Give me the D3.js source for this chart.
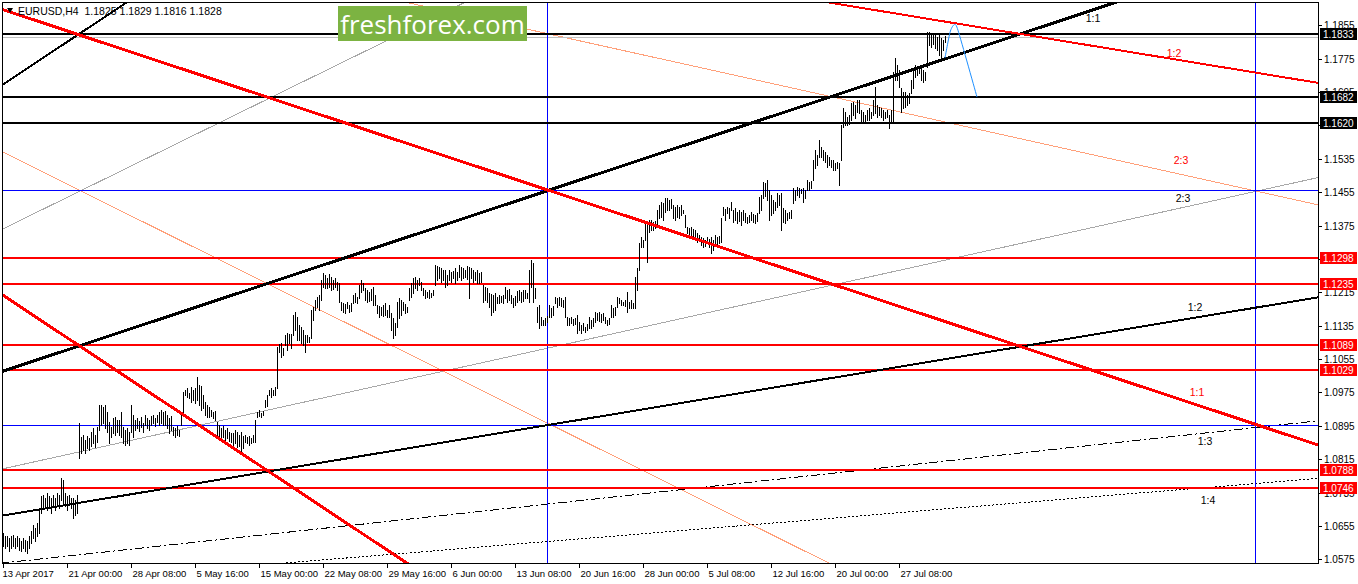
<!DOCTYPE html>
<html><head><meta charset="utf-8">
<script src="https://cdn.jsdelivr.net/npm/d3@7"></script>
<style>
html,body{margin:0;padding:0;background:#fff;}
svg{display:block;font-family:"Liberation Sans",Arial,sans-serif;}
</style></head><body><svg id="c" width="1358" height="584"></svg>
<script>
const symbolTitle = "EURUSD,H4  1.1825 1.1829 1.1816 1.1828";
const brand = "freshforex.com";

const highs = [
1.0637,1.0630,1.0632,1.0625,1.0630,1.0634,1.0627,1.0632,1.0625,1.0620,
1.0627,1.0622,1.0618,1.0630,1.0644,1.0658,1.0651,1.0663,1.0697,1.0726,
1.0730,1.0723,1.0733,1.0726,1.0721,1.0730,1.0723,1.0733,1.0728,1.0771,
1.0766,1.0733,1.0726,1.0730,1.0723,1.0723,1.0716,1.0728,1.0901,1.0867,
1.0872,1.0862,1.0870,1.0865,1.0879,1.0889,1.0874,1.0891,1.0944,1.0946,
1.0939,1.0946,1.0927,1.0903,1.0891,1.0913,1.0915,1.0908,1.0910,1.0927,
1.0891,1.0884,1.0889,1.0879,1.0944,1.0920,1.0908,1.0913,1.0906,1.0915,
1.0901,1.0920,1.0913,1.0908,1.0918,1.0920,1.0913,1.0922,1.0927,1.0932,
1.0927,1.0930,1.0920,1.0913,1.0918,1.0891,1.0889,1.0894,1.0886,1.0925,
1.0975,1.0980,1.0985,1.0973,1.0987,1.0982,1.0985,1.1011,1.0992,1.0990,
1.0968,1.0951,1.0944,1.0939,1.0932,1.0927,1.0930,1.0903,1.0896,1.0889,
1.0894,1.0884,1.0889,1.0879,1.0877,1.0877,1.0884,1.0879,1.0872,1.0879,
1.0870,1.0872,1.0867,1.0870,1.0865,1.0872,1.0908,1.0927,1.0932,1.0925,
1.0930,1.0956,1.0968,1.0982,1.0985,1.0980,1.0987,1.1083,1.1090,1.1093,
1.1081,1.1112,1.1117,1.1114,1.1114,1.1160,1.1167,1.1155,1.1136,1.1131,
1.1124,1.1112,1.1112,1.1107,1.1172,1.1179,1.1196,1.1203,1.1208,1.1244,
1.1261,1.1256,1.1249,1.1258,1.1251,1.1244,1.1249,1.1239,1.1237,1.1191,
1.1189,1.1186,1.1191,1.1184,1.1189,1.1208,1.1213,1.1203,1.1232,1.1244,
1.1237,1.1225,1.1220,1.1215,1.1222,1.1227,1.1208,1.1184,1.1182,1.1179,
1.1184,1.1189,1.1172,1.1184,1.1165,1.1153,1.1141,1.1191,1.1201,1.1196,
1.1191,1.1186,1.1179,1.1225,1.1237,1.1249,1.1251,1.1244,1.1249,1.1239,
1.1225,1.1220,1.1215,1.1220,1.1213,1.1220,1.1280,1.1278,1.1275,1.1273,
1.1268,1.1268,1.1256,1.1268,1.1263,1.1266,1.1273,1.1263,1.1280,1.1275,
1.1273,1.1268,1.1278,1.1275,1.1273,1.1268,1.1263,1.1268,1.1261,1.1263,
1.1232,1.1227,1.1225,1.1213,1.1210,1.1208,1.1213,1.1203,1.1208,1.1206,
1.1208,1.1227,1.1220,1.1222,1.1208,1.1201,1.1206,1.1218,1.1220,1.1215,
1.1220,1.1220,1.1213,1.1268,1.1292,1.1285,1.1225,1.1179,1.1184,1.1155,
1.1148,1.1153,1.1158,1.1184,1.1177,1.1182,1.1203,1.1201,1.1203,1.1201,
1.1196,1.1203,1.1155,1.1153,1.1155,1.1150,1.1153,1.1160,1.1143,1.1136,
1.1141,1.1131,1.1138,1.1155,1.1148,1.1153,1.1167,1.1165,1.1167,1.1162,
1.1165,1.1155,1.1148,1.1153,1.1184,1.1177,1.1179,1.1203,1.1201,1.1196,
1.1191,1.1196,1.1215,1.1191,1.1196,1.1189,1.1251,1.1273,1.1333,1.1347,
1.1340,1.1383,1.1381,1.1388,1.1388,1.1383,1.1386,1.1412,1.1424,1.1431,
1.1429,1.1441,1.1441,1.1436,1.1438,1.1424,1.1419,1.1424,1.1419,1.1424,
1.1412,1.1400,1.1371,1.1369,1.1371,1.1366,1.1364,1.1357,1.1352,1.1347,
1.1345,1.1340,1.1347,1.1342,1.1347,1.1340,1.1352,1.1347,1.1350,1.1393,
1.1419,1.1414,1.1419,1.1417,1.1431,1.1412,1.1417,1.1407,1.1412,1.1407,
1.1412,1.1405,1.1395,1.1400,1.1407,1.1402,1.1400,1.1405,1.1443,1.1448,
1.1479,1.1477,1.1484,1.1460,1.1448,1.1436,1.1431,1.1453,1.1448,1.1453,
1.1417,1.1412,1.1405,1.1407,1.1412,1.1465,1.1460,1.1467,1.1465,1.1462,
1.1465,1.1460,1.1484,1.1479,1.1482,1.1532,1.1556,1.1544,1.1580,1.1563,
1.1556,1.1551,1.1544,1.1539,1.1532,1.1532,1.1525,1.1527,1.1525,1.1616,
1.1657,1.1647,1.1635,1.1640,1.1669,1.1671,1.1664,1.1676,1.1676,1.1652,
1.1647,1.1640,1.1652,1.1657,1.1647,1.1676,1.1707,1.1664,1.1659,1.1657,
1.1652,1.1647,1.1652,1.1640,1.1652,1.1743,1.1777,1.1760,1.1748,1.1705,
1.1695,1.1695,1.1688,1.1693,1.1724,1.1748,1.1760,1.1753,1.1758,1.1753,
1.1748,1.1743,1.1839,1.1839,1.1837,1.1834,1.1832,1.1827,1.1832,1.1825,
1.1820,1.1829];

const lows = [
1.0606,1.0601,1.0608,1.0596,1.0603,1.0608,1.0601,1.0606,1.0598,1.0594,
1.0601,1.0596,1.0591,1.0603,1.0615,1.0627,1.0620,1.0630,1.0637,1.0687,
1.0697,1.0702,1.0692,1.0699,1.0685,1.0702,1.0694,1.0704,1.0697,1.0716,
1.0711,1.0702,1.0692,1.0704,1.0697,1.0675,1.0680,1.0687,1.0817,1.0831,
1.0836,1.0829,1.0841,1.0836,1.0846,1.0853,1.0843,1.0855,1.0884,1.0896,
1.0901,1.0889,1.0879,1.0853,1.0867,1.0877,1.0872,1.0879,1.0874,1.0867,
1.0853,1.0848,1.0853,1.0850,1.0879,1.0867,1.0884,1.0889,1.0882,1.0891,
1.0879,1.0898,1.0889,1.0884,1.0896,1.0901,1.0894,1.0903,1.0898,1.0901,
1.0896,1.0898,1.0889,1.0877,1.0884,1.0872,1.0867,1.0874,1.0870,1.0896,
1.0920,1.0968,1.0963,1.0961,1.0951,1.0956,1.0949,1.0956,1.0944,1.0932,
1.0937,1.0920,1.0915,1.0915,1.0918,1.0913,1.0908,1.0867,1.0865,1.0860,
1.0867,1.0860,1.0865,1.0858,1.0855,1.0850,1.0853,1.0843,1.0846,1.0831,
1.0841,1.0855,1.0853,1.0850,1.0853,1.0855,1.0855,1.0915,1.0918,1.0915,
1.0920,1.0939,1.0942,1.0968,1.0963,1.0970,1.0968,1.0985,1.1071,1.1059,
1.1064,1.1088,1.1076,1.1093,1.1081,1.1112,1.1124,1.1100,1.1100,1.1093,
1.1088,1.1071,1.1095,1.1095,1.1105,1.1148,1.1172,1.1179,1.1172,1.1196,
1.1227,1.1225,1.1225,1.1227,1.1220,1.1222,1.1227,1.1220,1.1191,1.1172,
1.1167,1.1165,1.1177,1.1167,1.1170,1.1189,1.1191,1.1189,1.1201,1.1215,
1.1220,1.1196,1.1191,1.1194,1.1196,1.1184,1.1184,1.1165,1.1155,1.1160,
1.1158,1.1160,1.1155,1.1155,1.1124,1.1105,1.1112,1.1131,1.1153,1.1160,
1.1172,1.1165,1.1167,1.1196,1.1203,1.1213,1.1225,1.1220,1.1232,1.1220,
1.1208,1.1201,1.1203,1.1201,1.1203,1.1208,1.1232,1.1244,1.1249,1.1239,
1.1244,1.1227,1.1232,1.1244,1.1239,1.1249,1.1237,1.1244,1.1251,1.1244,
1.1249,1.1251,1.1246,1.1201,1.1249,1.1239,1.1244,1.1237,1.1237,1.1239,
1.1191,1.1196,1.1191,1.1179,1.1160,1.1167,1.1172,1.1189,1.1189,1.1191,
1.1189,1.1201,1.1191,1.1196,1.1189,1.1179,1.1184,1.1191,1.1196,1.1191,
1.1194,1.1201,1.1201,1.1191,1.1227,1.1191,1.1201,1.1143,1.1129,1.1136,
1.1136,1.1136,1.1143,1.1155,1.1155,1.1160,1.1189,1.1179,1.1184,1.1182,
1.1179,1.1155,1.1136,1.1136,1.1141,1.1136,1.1138,1.1117,1.1124,1.1117,
1.1124,1.1119,1.1124,1.1129,1.1129,1.1134,1.1143,1.1148,1.1146,1.1143,
1.1148,1.1141,1.1136,1.1138,1.1155,1.1155,1.1160,1.1179,1.1189,1.1184,
1.1184,1.1182,1.1167,1.1177,1.1177,1.1177,1.1177,1.1220,1.1268,1.1323,
1.1323,1.1340,1.1287,1.1359,1.1364,1.1364,1.1369,1.1371,1.1393,1.1395,
1.1388,1.1407,1.1412,1.1412,1.1417,1.1393,1.1388,1.1395,1.1393,1.1400,
1.1405,1.1371,1.1357,1.1345,1.1352,1.1345,1.1340,1.1335,1.1338,1.1328,
1.1323,1.1326,1.1333,1.1323,1.1309,1.1316,1.1328,1.1323,1.1333,1.1335,
1.1400,1.1388,1.1405,1.1393,1.1412,1.1383,1.1388,1.1381,1.1386,1.1376,
1.1388,1.1383,1.1381,1.1383,1.1388,1.1383,1.1381,1.1386,1.1405,1.1412,
1.1441,1.1446,1.1436,1.1388,1.1400,1.1405,1.1412,1.1419,1.1424,1.1364,
1.1383,1.1381,1.1388,1.1393,1.1393,1.1429,1.1436,1.1448,1.1443,1.1453,
1.1431,1.1441,1.1460,1.1460,1.1465,1.1484,1.1513,1.1520,1.1539,1.1539,
1.1532,1.1527,1.1515,1.1520,1.1515,1.1508,1.1508,1.1513,1.1472,1.1532,
1.1611,1.1616,1.1616,1.1618,1.1628,1.1640,1.1633,1.1647,1.1645,1.1621,
1.1623,1.1621,1.1628,1.1628,1.1633,1.1640,1.1645,1.1635,1.1640,1.1635,
1.1628,1.1633,1.1635,1.1609,1.1621,1.1621,1.1724,1.1724,1.1707,1.1647,
1.1657,1.1659,1.1664,1.1669,1.1693,1.1705,1.1731,1.1736,1.1741,1.1724,
1.1719,1.1724,1.1755,1.1808,1.1803,1.1810,1.1801,1.1796,1.1784,1.1779,
1.1796,1.1816];

const timeLabels = ["13 Apr 2017","21 Apr 00:00","28 Apr 08:00","5 May 16:00","15 May 00:00","22 May 08:00","29 May 16:00","6 Jun 00:00","13 Jun 08:00","20 Jun 16:00","28 Jun 00:00","5 Jul 08:00","12 Jul 16:00","20 Jul 00:00","27 Jul 08:00"];
const timeLabelBars = [0,32,64,96,128,160,192,224,256,288,320,352,384,416,448];
const priceTicks = [1.1855,1.1775,1.1695,1.1615,1.1535,1.1455,1.1375,1.1295,1.1215,1.1135,1.1055,1.0975,1.0895,1.0815,1.0735,1.0655,1.0575];

const levelsBlack = [1.1833,1.1682,1.1620];
const levelsRed = [1.1298,1.1235,1.1089,1.1029,1.0788,1.0746];
const levelsBlue = [1.1460,1.0897];
const verticalBars = [272.15,626];
const bidPrice = 1.1828;

// trend lines: two anchor points each [bar index, price]
const redFanMain = [[37.5,1.1833],[272.5,1.1460]];
const redFanLow = [[0,1.1208],[158.5,1.0704]];
const redTop = [[415,1.1908],[657.5,1.1717]];
const salmonUpper = [[313.5,1.1791],[646.85,1.1436]];
const salmonLower = [[98.5,1.1316],[412.5,1.0567]];
const blackFanMain = [[0,1.1026],[508.5,1.1834]];
const blackFanMid = [[0,1.0680],[657.5,1.1203]];
const blackFanSteep = [[18.5,1.1772],[61.85,1.1910]];
const grayUpper = [[39.5,1.1460],[133.5,1.1681]];
const grayLower = [[0,1.0792],[657.5,1.1490]];
const fanDashDot = [[15.15,1.0574],[657.5,1.0907]];
const fanDotted = [[143.5,1.0567],[657.5,1.0769]];
const forecastPath = [[471,1.1777],[473.5,1.1838],[475.5,1.1856],[477.5,1.1843],[487,1.1683]];

const ratioText = ["1:1","1:2","2:3","2:3","1:2","1:1","1:3","1:4"];
const ratioBar = [545,585.5,589,590,596,597,601,602.5];
const ratioPrice = [1.1873,1.1789,1.1532,1.1441,1.1179,1.0975,1.0858,1.0716];
const ratioIsRed = [false,true,true,false,false,true,false,false];

// ---------- drawing ----------
const svg = d3.select("#c");
const L = 2.5, T = 2.5, R = 1318.5, B = 563.5;
const x = d3.scaleLinear().domain([0,657.5]).range([3,1318]);
const y = d3.scaleLinear().domain([1.0575,1.1855]).range([559.3,25.3]);

svg.append("rect").attr("width",1358).attr("height",584).attr("fill","#fff");
svg.append("defs").append("clipPath").attr("id","plot")
  .append("rect").attr("x",3).attr("y",3).attr("width",1315).attr("height",560);

const g = svg.append("g").attr("clip-path","url(#plot)");

function fullLine(pts){
  const [p1,p2] = pts;
  const m = (p2[1]-p1[1])/(p2[0]-p1[0]);
  const a = -10, b = 670;
  return [[a, p1[1]+m*(a-p1[0])],[b, p1[1]+m*(b-p1[0])]];
}
function drawLine(pts, color, w, dash){
  const seg = fullLine(pts);
  const p = g.append("line")
    .attr("x1",x(seg[0][0])).attr("y1",y(seg[0][1]))
    .attr("x2",x(seg[1][0])).attr("y2",y(seg[1][1]))
    .attr("stroke",color).attr("stroke-width",w)
    .attr("shape-rendering","crispEdges");
  if(dash) p.attr("stroke-dasharray",dash);
}
const py = v => Math.round(y(v)) + 0.5;

// thin background lines
drawLine(grayUpper,"#a8a8a8",1);
drawLine(grayLower,"#a8a8a8",1);
drawLine(salmonUpper,"#ffa07a",1);
drawLine(salmonLower,"#ffa07a",1);
drawLine(fanDashDot,"#000",1,"9,3,2,3");
drawLine(fanDotted,"#000",1,"2,2");

// bid line
g.append("line").attr("x1",3).attr("x2",1318).attr("y1",py(bidPrice)).attr("y2",py(bidPrice))
  .attr("stroke","#c0c0c0").attr("stroke-width",1).attr("shape-rendering","crispEdges");

// blue horizontal & vertical lines
levelsBlue.forEach(v=>{
  g.append("line").attr("x1",3).attr("x2",1318).attr("y1",py(v)).attr("y2",py(v))
   .attr("stroke","#0000ff").attr("stroke-width",1).attr("shape-rendering","crispEdges");
});
verticalBars.forEach(v=>{
  const xx = Math.round(x(v))+0.5;
  g.append("line").attr("x1",xx).attr("x2",xx).attr("y1",3).attr("y2",563)
   .attr("stroke","#0000ff").attr("stroke-width",1).attr("shape-rendering","crispEdges");
});

// horizontal levels
levelsRed.forEach(v=>{
  g.append("line").attr("x1",3).attr("x2",1318).attr("y1",Math.round(y(v))).attr("y2",Math.round(y(v)))
   .attr("stroke","#ff0000").attr("stroke-width",2).attr("shape-rendering","crispEdges");
});
levelsBlack.forEach(v=>{
  g.append("line").attr("x1",3).attr("x2",1318).attr("y1",Math.round(y(v))).attr("y2",Math.round(y(v)))
   .attr("stroke","#000").attr("stroke-width",2).attr("shape-rendering","crispEdges");
});

// bars (high-low)
g.append("g").selectAll("rect").data(highs.map((h,i)=>({h,l:lows[i],i}))).join("rect")
  .attr("x",d=>Math.round(x(d.i)))
  .attr("y",d=>Math.round(y(d.h)))
  .attr("width",1)
  .attr("height",d=>Math.max(1,Math.round(y(d.l))-Math.round(y(d.h))+1))
  .attr("fill","#000");

// fan / trend lines
drawLine(blackFanMid,"#000",2);
drawLine(blackFanSteep,"#000",2);
drawLine(blackFanMain,"#000",3);
drawLine(redTop,"#ff0000",2);
drawLine(redFanLow,"#ff0000",3);
drawLine(redFanMain,"#ff0000",3);

// forecast path
g.append("path").datum(forecastPath)
  .attr("d",d3.line().x(d=>x(d[0])).y(d=>y(d[1])).curve(d3.curveCardinal.tension(0.3)))
  .attr("fill","none").attr("stroke","#1e90ff").attr("stroke-width",1);

// ratio labels
ratioText.forEach((t,i)=>{
  g.append("text").attr("x",x(ratioBar[i])).attr("y",y(ratioPrice[i]))
   .attr("text-anchor","middle").attr("dominant-baseline","central")
   .attr("font-size",10.5).attr("fill",ratioIsRed[i]?"#ff0000":"#000").text(t);
});

// logo
const logo = svg.append("g");
logo.append("rect").attr("x",338).attr("y",6).attr("width",189).attr("height",35).attr("fill","#7cb342");
logo.append("text").attr("x",432.5).attr("y",24).attr("text-anchor","middle").attr("dominant-baseline","central")
  .attr("font-family","'Open Sans',sans-serif").attr("font-size",26).attr("fill","#fff").text(brand);

// frame
svg.append("rect").attr("x",L).attr("y",T).attr("width",R-L).attr("height",B-T)
  .attr("fill","none").attr("stroke","#000").attr("stroke-width",1).attr("shape-rendering","crispEdges");

// title
svg.append("path").attr("d","M7,8 L13,8 L10,13 Z").attr("fill","#000");
svg.append("text").attr("x",18).attr("y",14.5).attr("font-size",10.5).attr("fill","#000")
  .attr("xml:space","preserve").style("white-space","pre").text(symbolTitle);

// right price axis
const ya = svg.append("g");
priceTicks.forEach(v=>{
  const yy = py(v);
  ya.append("line").attr("x1",1319).attr("x2",1322).attr("y1",yy).attr("y2",yy)
    .attr("stroke","#000").attr("shape-rendering","crispEdges");
  ya.append("text").attr("x",1324).attr("y",yy).attr("dominant-baseline","central")
    .attr("font-size",10).attr("fill","#000").text(d3.format(".4f")(v));
});
function tag(v,bg){
  const yy = Math.round(y(v));
  ya.append("rect").attr("x",1320).attr("y",yy-6).attr("width",37).attr("height",12).attr("fill",bg);
  ya.append("text").attr("x",1323).attr("y",yy+0.5).attr("dominant-baseline","central")
    .attr("font-size",10).attr("fill","#fff").text(d3.format(".4f")(v));
}
levelsBlack.forEach(v=>tag(v,"#000"));
levelsRed.forEach(v=>tag(v,"#ff0000"));

// bottom time axis
const xa = svg.append("g");
timeLabelBars.forEach((b,i)=>{
  const xx = Math.round(x(b))+0.5;
  xa.append("line").attr("x1",xx).attr("x2",xx).attr("y1",564).attr("y2",568)
    .attr("stroke","#000").attr("shape-rendering","crispEdges");
  xa.append("text").attr("x",xx+ (i===0?-1:1)).attr("y",577).attr("font-size",9.5).attr("fill","#000").text(timeLabels[i]);
});
</script></body></html>
